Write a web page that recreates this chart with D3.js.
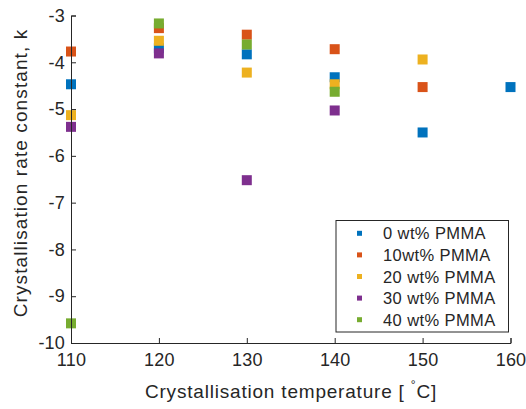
<!DOCTYPE html>
<html><head><meta charset="utf-8">
<script src="https://cdn.jsdelivr.net/npm/d3@7"></script>
<style>body{margin:0;background:#fff}svg{display:block}text{font-family:"Liberation Sans",Arial,sans-serif;fill:#262626}</style>
</head><body>
<script>
const seriesNames = ["0 wt% PMMA","10wt% PMMA","20 wt% PMMA","30 wt% PMMA","40 wt% PMMA"];
const colors = ["#0072BD","#D95319","#EDB120","#7E2F8E","#77AC30"];
const temps0 = [110,120,130,140,150,160];
const vals0 = [-4.47,-3.70,-3.83,-4.32,-5.50,-4.53];
const temps10 = [110,120,130,140,150];
const vals10 = [-3.77,-3.27,-3.41,-3.72,-4.53];
const temps20 = [110,120,130,140,150];
const vals20 = [-5.13,-3.54,-4.22,-4.47,-3.94];
const temps30 = [110,120,130,140];
const vals30 = [-5.38,-3.81,-6.52,-5.03];
const temps40 = [110,120,130,140];
const vals40 = [-9.58,-3.17,-3.62,-4.63];
const xTicks = [110,120,130,140,150,160];
const yTicks = [-10,-9,-8,-7,-6,-5,-4,-3];

const series = [[temps0,vals0],[temps10,vals10],[temps20,vals20],[temps30,vals30],[temps40,vals40]];
const W=526,H=409;
const svg=d3.select("body").append("svg").attr("width",W).attr("height",H);
const x=d3.scaleLinear().domain([110,160]).range([71,510.5]);
const y=d3.scaleLinear().domain([-10,-3]).range([343,15.5]);

// markers
const ms=10;
series.forEach((s,i)=>{
  svg.append("g").selectAll("rect").data(s[0].map((t,j)=>[t,s[1][j]])).join("rect")
    .attr("x",d=>x(d[0])-ms/2).attr("y",d=>y(d[1])-ms/2)
    .attr("width",ms).attr("height",ms).attr("fill",colors[i]);
});

// axes
const fmt=d=>String(d);
const xa=svg.append("g").attr("transform",`translate(0,${y(-10)})`)
  .call(d3.axisBottom(x).tickValues(xTicks).tickFormat(fmt).tickSize(-5).tickPadding(10));
const ya=svg.append("g").attr("transform",`translate(${x(110)},0)`)
  .call(d3.axisLeft(y).tickValues(yTicks).tickFormat(fmt).tickSize(-5).tickPadding(6));
[xa,ya].forEach(a=>{
  a.selectAll("path,line").attr("stroke","#262626").attr("stroke-width",1);
  a.selectAll("text").attr("font-size","18px").attr("letter-spacing","0.2px")
   .style("font-family","'Liberation Sans',Arial,sans-serif").attr("fill","#262626");
});

// labels
svg.append("text").attr("x",291).attr("y",398).attr("text-anchor","middle").attr("font-size","19px")
  .attr("letter-spacing","0.8px")
  .html('Crystallisation temperature [ <tspan dy="-9" font-size="12px">°</tspan><tspan dy="9">C]</tspan>');
svg.append("text").attr("transform",`translate(27,173) rotate(-90)`)
  .attr("text-anchor","middle").attr("font-size","19px").attr("letter-spacing","1.1px")
  .text("Crystallisation rate constant, k");

// legend
const lg=svg.append("g");
lg.append("rect").attr("x",336).attr("y",220.5).attr("width",172.5).attr("height",111.5)
  .attr("fill","#fff").attr("stroke","#262626").attr("stroke-width",1);
seriesNames.forEach((n,i)=>{
  const yy=233.3+i*21.6;
  lg.append("rect").attr("x",357).attr("y",yy-2.5).attr("width",5).attr("height",5).attr("fill",colors[i]);
  lg.append("text").attr("x",383).attr("y",yy+6).attr("font-size","16.5px").attr("letter-spacing","0.4px").text(n);
});
</script>
</body></html>
